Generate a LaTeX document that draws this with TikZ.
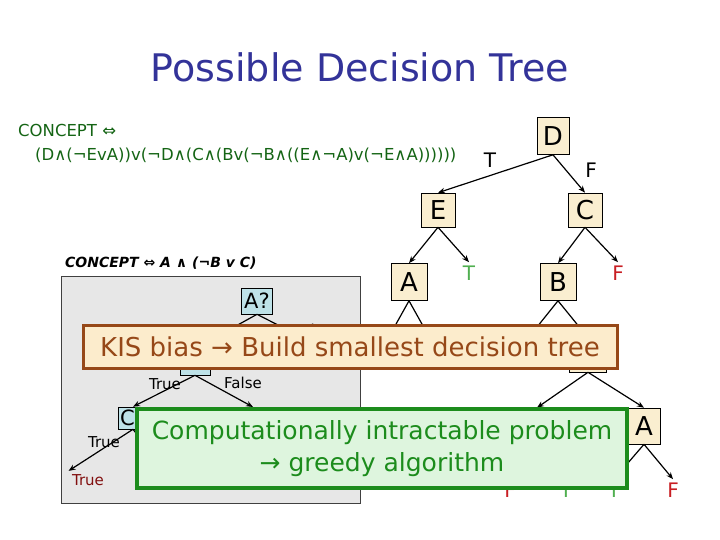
\documentclass[tikz,border=0pt]{standalone}
\usepackage{fontspec}
\setmainfont{DejaVu Sans}
\usetikzlibrary{arrows.meta}
\definecolor{titleblue}{RGB}{51,51,153}
\definecolor{formulagreen}{RGB}{20,100,20}
\definecolor{boxbeige}{RGB}{250,238,208}
\definecolor{panelgray}{RGB}{231,231,231}
\definecolor{qblue}{RGB}{190,226,232}
\definecolor{kisfill}{RGB}{252,236,204}
\definecolor{kisbrown}{RGB}{150,72,24}
\definecolor{greedyfill}{RGB}{222,245,222}
\definecolor{greedygreen}{RGB}{28,140,28}
\definecolor{leafgreen}{RGB}{80,175,80}
\definecolor{leafred}{RGB}{200,30,35}
\definecolor{truered}{RGB}{130,15,15}

\begin{document}
\begin{tikzpicture}[x=1pt,y=-1pt,>={Stealth[length=7pt,width=5.5pt]},
  treebox/.style={draw,line width=.6pt,fill=boxbeige,inner sep=0pt,font=\fontsize{26}{28}\selectfont},
  qbox/.style={draw,line width=.6pt,fill=qblue,inner sep=0pt,minimum width=31pt,minimum height=26pt,font=\fontsize{21}{22}\selectfont},
  branch/.style={->,line width=1.2pt},
  lbl/.style={font=\fontsize{15}{16}\selectfont},
  leaf/.style={font=\fontsize{20}{22}\selectfont}]
\path[use as bounding box] (0,0) rectangle (720,540);
\node[text=titleblue,font=\fontsize{38}{40}\selectfont] (title) at (360,67) {Possible Decision Tree};
\node[anchor=west,text=formulagreen,font=\fontsize{16.5}{18}\selectfont,inner sep=0pt] (concept) at (18,130) {CONCEPT ⇔};
\node[anchor=west,text=formulagreen,font=\fontsize{16.5}{18}\selectfont,inner sep=0pt] (formula) at (35,155) {(D∧(¬EvA))v(¬D∧(C∧(Bv(¬B∧((E∧¬A)v(¬E∧A))))))};
% big tree
\node[treebox,minimum width=32pt,minimum height=37pt] (d) at (553,136) {D};
\node[font=\fontsize{20}{22}\selectfont] (dt) at (490,160) {T};
\node[font=\fontsize{20}{22}\selectfont] (df) at (591,170) {F};
\node[treebox,minimum width=34pt,minimum height=34pt] (e) at (438,210) {E};
\node[treebox,minimum width=34pt,minimum height=34pt] (c) at (585,210) {C};
\node[treebox,minimum width=36pt,minimum height=37pt] (a1) at (409,282) {A};
\node[leaf,text=leafgreen] (t1) at (469,273) {T};
\node[treebox,minimum width=36pt,minimum height=37pt] (b1) at (558,282) {B};
\node[leaf,text=leafred] (f1) at (618,273) {F};
\coordinate (a1l) at (386,342);
\coordinate (a1r) at (432,342);
\coordinate (b1l) at (525,342);
\node[treebox,minimum width=37pt,minimum height=34pt] (e2) at (588,355) {};
\node[treebox,minimum width=32pt,minimum height=36pt] (a2) at (537,426) {};
\node[treebox,minimum width=32pt,minimum height=36pt] (a3) at (644,426) {A};
\node[leaf,text=leafred] (f2) at (510,490) {F};
\node[leaf,text=leafgreen] (t2) at (566,490) {T};
\node[leaf,text=leafgreen] (t3) at (614,490) {T};
\node[leaf,text=leafred] (f3) at (673,490) {F};
\draw[branch] (d.south) -- (e.north);
\draw[branch] (d.south) -- (c.north);
\draw[branch] (e.south) -- (a1.north);
\draw[branch] (e.south) -- (t1.north);
\draw[branch] (c.south) -- (b1.north);
\draw[branch] (c.south) -- (f1.north);
\draw[branch] (a1.south) -- (a1l);
\draw[branch] (a1.south) -- (a1r);
\draw[branch] (b1.south) -- (b1l);
\draw[branch] (b1.south) -- (e2.north);
\draw[branch] (e2.south) -- (a2.north);
\draw[branch] (e2.south) -- (a3.north);
\draw[branch] (a2.south) -- (f2.north);
\draw[branch] (a2.south) -- (t2.north);
\draw[branch] (a3.south) -- (t3.north);
\draw[branch] (a3.south) -- (f3.north);
% small tree on grey panel
\node[anchor=west,inner sep=0pt,font=\fontsize{14}{16}\selectfont\bfseries\itshape] (concept2) at (65,263) {CONCEPT ⇔ A ∧ (¬B v C)};
\draw[fill=panelgray,draw=black!75,line width=.8pt] (61,276) rectangle (360,503);
\node[qbox] (aq) at (257,301) {A?};
\node[qbox,minimum width=30pt] (bq) at (195,362) {B?};
\node[lbl] (aqf) at (332,362) {False};
\node[qbox,minimum width=30pt,minimum height=22pt] (cq) at (133,418) {C?};
\coordinate (bqr) at (253,407);
\coordinate (cqr) at (165,470);
\node[lbl,text=truered] (cqt) at (88,480) {True};
\node[lbl] (aqtl) at (224,330) {True};
\node[lbl] (aqfl) at (313,330) {False};
\node[lbl] (bqtl) at (165,384) {True};
\node[lbl] (bqfl) at (243,383) {False};
\node[lbl] (cqtl) at (104,442) {True};
\draw[branch] (aq.south) -- (bq.north);
\draw[branch] (aq.south) -- (aqf.north);
\draw[branch] (bq.south) -- (cq.north);
\draw[branch] (bq.south) -- (bqr);
\draw[branch] (cq.south) -- (cqt.north west);
\draw[branch] (cq.south) -- (cqr);
% overlay notes
\node[draw=kisbrown,line width=3pt,fill=kisfill,text=kisbrown,minimum width=534pt,minimum height=43pt,inner sep=0pt,font=\fontsize{26}{28}\selectfont] (kis) at (350,346.5) {KIS bias → Build smallest decision tree};
\node[draw=greedygreen,line width=3.5pt,fill=greedyfill,text=greedygreen,minimum width=490pt,minimum height=79pt,inner sep=0pt,align=center,font=\fontsize{25}{32}\selectfont] (greedy) at (382,448.5) {Computationally intractable problem\\→ greedy algorithm};
\end{tikzpicture}
\end{document}
